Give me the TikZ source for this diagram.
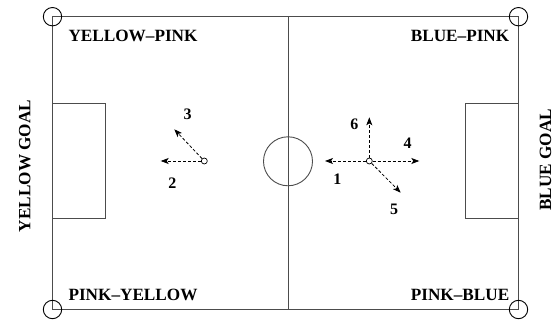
\documentclass[tikz,border=0pt]{standalone}
\usepackage{fontspec}
\setmainfont{Liberation Serif}
\usetikzlibrary{arrows.meta}
\begin{document}
\begin{tikzpicture}[x=1pt,y=-1pt,
  fieldline/.style={draw=black!70, line width=0.9pt},
  cornermark/.style={draw=black, line width=0.9pt},
  lbl/.style={font=\bfseries\fontsize{17.2}{18}\selectfont, inner sep=0pt},
  num/.style={font=\bfseries\fontsize{16}{17}\selectfont, inner sep=0pt},
  player/.style={circle, draw=black, fill=white, line width=0.7pt, minimum size=6pt, inner sep=0pt},
  move/.style={dashed, dash pattern=on 3pt off 2pt, line width=0.8pt, -{Stealth[length=8pt,width=6pt,inset=2pt]}}]
\useasboundingbox (0,0) rectangle (555,320);
% field
\coordinate (tl) at (52.5,16.7);
\coordinate (tr) at (518.5,16.7);
\coordinate (bl) at (52.5,309.5);
\coordinate (br) at (518.5,309.5);
\draw[fieldline] (tl) rectangle (br);
\draw[fieldline] (288,16.7) -- (288,309.5);
\draw[fieldline] (288,161.3) circle[radius=24.5];
\draw[fieldline] (52.5,103.3) rectangle (105.7,218.5);
\draw[fieldline] (465.7,103.3) rectangle (518.5,218.5);
% corners
\foreach \c in {tl,tr,bl,br} \draw[cornermark] (\c) circle[radius=9.2];
% labels
\node[lbl, anchor=west] (yp) at (68.3,35.5) {YELLOW–PINK};
\node[lbl, anchor=east] (bp) at (509.5,35.5) {BLUE–PINK};
\node[lbl, anchor=west] (py) at (68.3,295) {PINK–YELLOW};
\node[lbl, anchor=east] (pb) at (509.5,295) {PINK–BLUE};
\node[lbl, rotate=90] (yg) at (24.7,166) {YELLOW GOAL};
\node[lbl, rotate=90] (bg) at (545.5,160) {BLUE GOAL};
% left player
\node[player] (p1) at (204.3,161) {};
\coordinate (a2) at (160.7,161);
\coordinate (a3) at (174.3,129.3);
\draw[move] (p1) -- (a2);
\draw[move] (p1) -- (a3);
\node[num] (n3) at (187.7,114) {3};
\node[num] (n2) at (172.3,183.3) {2};
% right player
\node[player] (p2) at (369.3,161) {};
\coordinate (a1) at (325,161);
\coordinate (a4) at (419.3,161);
\coordinate (a6) at (369.3,117.3);
\coordinate (a5) at (400.7,192.7);
\draw[move] (p2) -- (a1);
\draw[move] (p2) -- (a4);
\draw[move] (p2) -- (a6);
\draw[move] (p2) -- (a5);
\node[num] (n6) at (354.3,124.3) {6};
\node[num] (n4) at (407.7,143.3) {4};
\node[num] (n1) at (337.3,179) {1};
\node[num] (n5) at (394,209.3) {5};
\end{tikzpicture}
\end{document}
